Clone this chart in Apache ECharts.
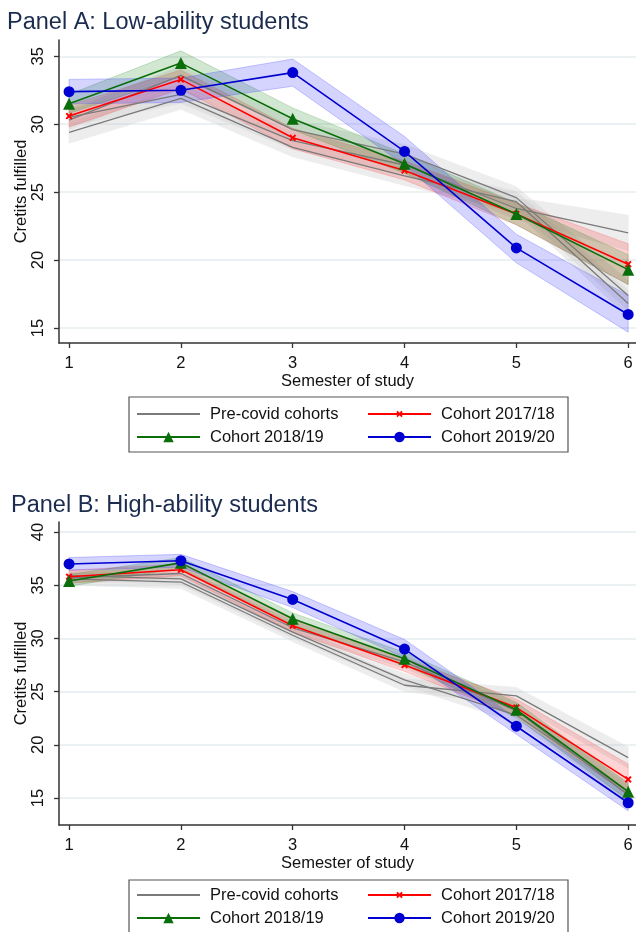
<!DOCTYPE html>
<html><head><meta charset="utf-8">
<script src="https://cdn.jsdelivr.net/npm/echarts@6/dist/echarts.min.js"></script>
<style>html,body{margin:0;padding:0;background:#fff}#c{width:636px;height:932px}</style>
</head><body><div id="c"></div>
<script>
// ---------- data ----------
const semesters = [1, 2, 3, 4, 5, 6];
const xTicks = [1, 2, 3, 4, 5, 6];
const yTicksA = [15, 20, 25, 30, 35];
const yTicksB = [15, 20, 25, 30, 35, 40];
const legendNames = ['Pre-covid cohorts', 'Cohort 2017/18', 'Cohort 2018/19', 'Cohort 2019/20'];
const titles = ['Panel A: Low-ability students', 'Panel B: High-ability students'];

// Panel A: pre-covid cohorts (gray)
const aPre1 = [30.3, 33.6, 29.6, 27.8, 24.6, 17.4];
const aPre1Lo = [29.6, 32.9, 28.9, 27.1, 23.8, 16.3];
const aPre1Hi = [31.0, 34.3, 30.3, 28.5, 25.4, 18.5];
const aPre2 = [29.4, 31.9, 28.3, 26.2, 24.3, 16.8];
const aPre2Lo = [28.6, 31.1, 27.6, 25.5, 23.5, 15.8];
const aPre2Hi = [30.2, 32.7, 29.0, 26.9, 25.1, 17.8];
const aPre3 = [30.5, 32.2, 28.8, 27.0, 23.8, 22.0];
const aPre3Lo = [29.8, 31.5, 28.1, 26.3, 23.0, 20.7];
const aPre3Hi = [31.2, 32.9, 29.5, 27.7, 24.6, 23.3];
// Panel A: cohorts
const aC17 = [30.6, 33.3, 29.0, 26.6, 23.4, 19.7];
const aC17Lo = [29.8, 32.6, 28.2, 25.9, 22.6, 18.2];
const aC17Hi = [31.4, 34.0, 29.7, 27.3, 24.2, 21.2];
const aC18 = [31.5, 34.5, 30.4, 27.1, 23.4, 19.3];
const aC18Lo = [30.8, 33.5, 29.6, 26.4, 22.6, 18.2];
const aC18Hi = [32.2, 35.4, 31.2, 27.8, 24.2, 20.4];
const aC19 = [32.4, 32.5, 33.8, 28.0, 20.9, 16.0];
const aC19Lo = [31.5, 31.6, 32.8, 27.0, 19.8, 14.7];
const aC19Hi = [33.3, 33.4, 34.8, 29.1, 21.9, 17.4];

// Panel B: pre-covid cohorts (gray)
const bPre1 = [35.6, 35.3, 30.3, 25.6, 24.6, 18.8];
const bPre1Lo = [35.0, 34.7, 29.7, 25.0, 23.8, 17.8];
const bPre1Hi = [36.2, 35.9, 30.9, 26.2, 25.4, 19.8];
const bPre2 = [35.9, 35.6, 30.6, 26.1, 22.8, 15.6];
const bPre2Lo = [35.3, 35.0, 30.0, 25.5, 22.1, 14.7];
const bPre2Hi = [36.5, 36.2, 31.2, 26.7, 23.5, 16.5];
const bPre3 = [35.7, 36.1, 31.0, 27.8, 23.2, 15.3];
const bPre3Lo = [35.1, 35.5, 30.4, 27.2, 22.5, 14.4];
const bPre3Hi = [36.3, 36.7, 31.6, 28.4, 23.9, 16.2];
// Panel B: cohorts
const bC17 = [35.8, 36.45, 31.2, 27.5, 23.5, 16.75];
const bC17Lo = [35.2, 35.9, 30.6, 26.9, 22.7, 15.3];
const bC17Hi = [36.4, 37.0, 31.8, 28.1, 24.3, 18.2];
const bC18 = [35.4, 37.1, 31.85, 28.1, 23.3, 15.6];
const bC18Lo = [34.9, 36.6, 31.3, 27.5, 22.6, 14.8];
const bC18Hi = [36.0, 37.6, 32.4, 28.7, 24.0, 16.4];
const bC19 = [37.0, 37.3, 33.66, 29.0, 21.75, 14.56];
const bC19Lo = [36.4, 36.7, 32.9, 28.2, 21.0, 13.8];
const bC19Hi = [37.6, 37.9, 34.4, 29.9, 22.5, 15.4];

// ---------- styling ----------
const FONT = "'Liberation Sans', Arial, sans-serif";
const GRAY = '#7a7a7a', RED = '#ff0000', GREEN = '#0a6e0a', BLUE = '#0000d0';
const XMARK = 'path://M2,0 L5,3 L8,0 L10,2 L7,5 L10,8 L8,10 L5,7 L2,10 L0,8 L3,5 L0,2 Z';

function bandSeries(gi, lo, hi, fill, stroke, z) {
  return {
    type: 'custom', name: 'band', xAxisIndex: gi, yAxisIndex: gi, silent: true, z: z,
    data: [[semesters[0], lo[0]]],
    renderItem: function (params, api) {
      const pts = [];
      for (let i = 0; i < semesters.length; i++) pts.push(api.coord([semesters[i], hi[i]]));
      for (let i = semesters.length - 1; i >= 0; i--) pts.push(api.coord([semesters[i], lo[i]]));
      return { type: 'polygon', shape: { points: pts }, style: { fill: fill, stroke: stroke, lineWidth: 1 } };
    }
  };
}
function lineSeries(name, gi, vals, color, symbol, size, width, z) {
  return {
    type: 'line', name: name, xAxisIndex: gi, yAxisIndex: gi, z: z,
    data: semesters.map((x, i) => [x, vals[i]]),
    symbol: symbol, symbolSize: size, showSymbol: symbol !== 'none',
    lineStyle: { color: color, width: width },
    itemStyle: { color: color, borderWidth: 0 },
    emphasis: { disabled: true }, animation: false
  };
}
function xAxis(gi) {
  return {
    type: 'value', gridIndex: gi, min: 0.91, max: 6.07,
    name: 'Semester of study', nameLocation: 'middle', nameGap: 29,
    nameTextStyle: { fontFamily: FONT, fontSize: 16.5, color: '#111' },
    axisLine: { show: true, onZero: false, lineStyle: { color: '#333', width: 1.5 } },
    axisTick: { show: true, length: 5, customValues: xTicks, lineStyle: { color: '#333', width: 1.3 } },
    axisLabel: { customValues: xTicks, margin: 12, fontFamily: FONT, fontSize: 16.5, color: '#111' },
    splitLine: { show: false }
  };
}
function yAxis(gi, min, max, ticks) {
  return {
    type: 'value', gridIndex: gi, min: min, max: max,
    name: 'Cretits fulfilled', nameLocation: 'middle', nameGap: 29, nameRotate: 90, nameMoveOverlap: false,
    nameTextStyle: { fontFamily: FONT, fontSize: 16.5, color: '#111' },
    axisLine: { show: true, onZero: false, lineStyle: { color: '#333', width: 1.5 } },
    axisTick: { show: true, length: 5, customValues: ticks, lineStyle: { color: '#333', width: 1.3 } },
    axisLabel: { customValues: ticks, rotate: 90, margin: 12, fontFamily: FONT, fontSize: 16.5, color: '#111' },
    splitLine: { show: true, lineStyle: { color: '#e6edf1', width: 1.5 } }
  };
}
function legends(top) {
  const base = { orient: 'horizontal', padding: 0, itemWidth: 63, selectedMode: false,
    textStyle: { fontFamily: FONT, fontSize: 16.5, lineHeight: 18, color: '#111', padding: [0, 0, 0, 5] } };
  return [
    Object.assign({}, base, { left: 136, top: top, itemHeight: 13, data: [{ name: legendNames[0], itemStyle: { opacity: 0 } }] }),
    Object.assign({}, base, { left: 367, top: top, itemHeight: 8, data: [legendNames[1]] }),
    Object.assign({}, base, { left: 136, top: top + 23, itemHeight: 13, data: [legendNames[2]] }),
    Object.assign({}, base, { left: 367, top: top + 23, itemHeight: 13, data: [legendNames[3]] })
  ];
}
function panelSeries(gi, pre, c17, c18, c19) {
  const s = [];
  pre.forEach(p => s.push(bandSeries(gi, p[1], p[2], 'rgba(200,200,200,0.32)', 'rgba(235,235,235,0.6)', 1)));
  s.push(bandSeries(gi, c17[1], c17[2], 'rgba(255,0,0,0.17)', 'rgba(255,80,80,0.25)', 2));
  s.push(bandSeries(gi, c18[1], c18[2], 'rgba(0,120,0,0.18)', 'rgba(60,150,60,0.25)', 2));
  s.push(bandSeries(gi, c19[1], c19[2], 'rgba(0,0,255,0.17)', 'rgba(80,80,255,0.3)', 2));
  pre.forEach(p => s.push(lineSeries(legendNames[0], gi, p[0], GRAY, 'none', 0, 1.3, 3)));
  s.push(lineSeries(legendNames[1], gi, c17[0], RED, XMARK, 7, 1.6, 4));
  s.push(lineSeries(legendNames[2], gi, c18[0], GREEN, 'triangle', 12, 1.6, 5));
  s.push(lineSeries(legendNames[3], gi, c19[0], BLUE, 'circle', 11, 1.6, 6));
  return s;
}

const series = [].concat(
  panelSeries(0, [[aPre1, aPre1Lo, aPre1Hi], [aPre2, aPre2Lo, aPre2Hi], [aPre3, aPre3Lo, aPre3Hi]],
    [aC17, aC17Lo, aC17Hi], [aC18, aC18Lo, aC18Hi], [aC19, aC19Lo, aC19Hi]),
  panelSeries(1, [[bPre1, bPre1Lo, bPre1Hi], [bPre2, bPre2Lo, bPre2Hi], [bPre3, bPre3Lo, bPre3Hi]],
    [bC17, bC17Lo, bC17Hi], [bC18, bC18Lo, bC18Hi], [bC19, bC19Lo, bC19Hi])
);

const chart = echarts.init(document.getElementById('c'), null, { renderer: 'canvas' });
chart.setOption({
  animation: false,
  backgroundColor: '#fff',
  title: [
    { text: titles[0], left: 2, top: 6, textStyle: { fontFamily: FONT, fontSize: 23.5, fontWeight: 'normal', color: '#1b2c4e' } },
    { text: titles[1], left: 6, top: 489, textStyle: { fontFamily: FONT, fontSize: 23.5, fontWeight: 'normal', color: '#1b2c4e' } }
  ],
  grid: [
    { left: 59, top: 40, width: 577, height: 303, containLabel: false, outerBoundsMode: 'none' },
    { left: 59, top: 522, width: 577, height: 303, containLabel: false, outerBoundsMode: 'none' }
  ],
  xAxis: [xAxis(0), xAxis(1)],
  yAxis: [yAxis(0, 13.9, 36.2, yTicksA), yAxis(1, 12.47, 40.94, yTicksB)],
  legend: legends(405).concat(legends(886)),
  graphic: [
    { type: 'rect', shape: { x: 129, y: 397, width: 439, height: 55 }, style: { fill: 'none', stroke: '#555', lineWidth: 1.2 }, silent: true },
    { type: 'rect', shape: { x: 129, y: 880, width: 439, height: 55 }, style: { fill: 'none', stroke: '#555', lineWidth: 1.2 }, silent: true }
  ],
  series: series
});
</script></body></html>
